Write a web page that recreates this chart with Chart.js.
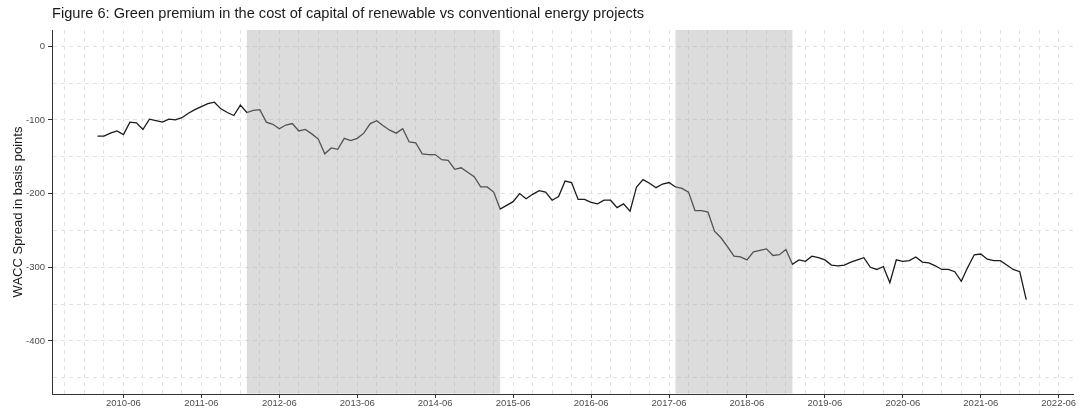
<!DOCTYPE html>
<html>
<head>
<meta charset="utf-8">
<script src="https://cdn.jsdelivr.net/npm/chart.js@4.4.0/dist/chart.umd.min.js"></script>
<style>
    html, body { margin: 0; padding: 0; background: #fff; }
    #wrap { width: 1086px; height: 416px; position: relative; }
</style>
</head>
<body>
<div id="wrap"><canvas id="premium-chart"></canvas></div>
<script>
(function() {
    "use strict";

    const chartTitle = 'Figure 6: Green premium in the cost of capital of renewable vs conventional energy projects';
    const yAxisTitle = 'WACC Spread in basis points';

    // monthly WACC spread (bp), series starts Feb 2010
    const firstYear = 2010;
    const firstMonth = 2;
    const wacc2010 = [-122, -122, -118, -115, -120, -103, -104, -113, -99, -101, -103];
    const wacc2011 = [-99, -100, -97, -91, -86, -82, -78, -76, -85, -90, -94, -80];
    const wacc2012 = [-90, -87, -86, -103, -106, -112, -107, -105, -115, -113, -119, -126];
    const wacc2013 = [-146, -138, -140, -125, -128, -125, -118, -105, -101, -108, -114, -118];
    const wacc2014 = [-112, -130, -131, -146, -147, -147, -154, -155, -167, -165, -171, -177];
    const wacc2015 = [-191, -191, -198, -221, -216, -211, -200, -207, -201, -196, -198, -209];
    const wacc2016 = [-204, -183, -185, -208, -208, -212, -214, -209, -209, -219, -214, -224];
    const wacc2017 = [-191, -181, -186, -192, -187, -185, -191, -193, -198, -223, -223, -225];
    const wacc2018 = [-251, -260, -272, -285, -286, -290, -279, -277, -275, -284, -283, -276];
    const wacc2019 = [-296, -290, -292, -285, -287, -290, -297, -298, -297, -293, -290, -287];
    const wacc2020 = [-300, -303, -299, -321, -290, -292, -291, -286, -293, -294, -298, -303];
    const wacc2021 = [-303, -306, -319, -300, -283, -282, -289, -291, -291, -297, -303, -306];
    const wacc2022 = [-344];
    const waccByYear = [wacc2010, wacc2011, wacc2012, wacc2013, wacc2014, wacc2015, wacc2016,
                        wacc2017, wacc2018, wacc2019, wacc2020, wacc2021, wacc2022];

    const xTickLabels = ['2010-06', '2011-06', '2012-06', '2013-06', '2014-06', '2015-06', '2016-06',
                         '2017-06', '2018-06', '2019-06', '2020-06', '2021-06', '2022-06'];
    const yTickValues = [0, -100, -200, -300, -400];
    const shadedPeriods = [['2012-01', '2015-04'], ['2017-07', '2019-01']];

    function toYear(s) {
        const parts = s.split('-').map(Number);
        return parts[0] + (parts[1] - 1) / 12;
    }

    let points = [];
    waccByYear.forEach(function(vals, i) {
        const startM = i === 0 ? firstMonth : 1;
        vals.forEach(function(v, j) {
            points.push({x: firstYear + i + (startM - 1 + j) / 12, y: v});
        });
    });

    function xLabelFor(value) {
        const hit = xTickLabels.find(l => Math.abs(toYear(l) - value) < 0.01);
        return hit || '';
    }
    function yLabelFor(value) {
        return yTickValues.includes(value) ? String(value) : '';
    }

    const gridColor = '#e2e2e2';
    const axisColor = '#333333';
    const tickFont = {family: '"Liberation Sans", Arial, sans-serif', size: 9.5};

    const figTitle = {
        id: 'figTitle',
        afterDraw(chart) {
            const ctx = chart.ctx;
            ctx.save();
            ctx.font = '14.6px "Liberation Sans", Arial, sans-serif';
            ctx.fillStyle = '#1a1a1a';
            ctx.textBaseline = 'middle';
            ctx.fillText(chartTitle, chart.chartArea.left, 14);
            ctx.restore();
        }
    };

    const shade = {
        id: 'shade',
        afterDatasetsDraw(chart) {
            const ctx = chart.ctx, a = chart.chartArea, x = chart.scales.x;
            ctx.save();
            ctx.fillStyle = 'rgba(168,168,168,0.4)';
            shadedPeriods.forEach(function(p) {
                const x0 = x.getPixelForValue(toYear(p[0]));
                const x1 = x.getPixelForValue(toYear(p[1]));
                ctx.fillRect(x0, a.top, x1 - x0, a.bottom - a.top - 0.5);
            });
            ctx.restore();
        }
    };

    new Chart(document.getElementById('premium-chart'), {
        type: 'line',
        data: {
            datasets: [{
                data: points,
                borderColor: '#1a1a1a',
                borderWidth: 1.3,
                pointRadius: 0,
                fill: false,
                tension: 0
            }]
        },
        options: {
            responsive: true,
            maintainAspectRatio: false,
            animation: false,
            layout: {
                padding: {top: 30, right: 13, left: 0, bottom: 0}
            },
            plugins: {
                legend: {display: false},
                tooltip: {enabled: false}
            },
            scales: {
                x: {
                    type: 'linear',
                    min: 2009.5,
                    max: 2022.6,
                    afterFit: function(scale) { scale.height = 22; },
                    afterBuildTicks: function(scale) {
                        const start = toYear('2009-09');
                        let ticks = [];
                        for (let k = 0; start + k * 0.25 <= scale.max; k++) {
                            ticks.push({value: start + k * 0.25});
                        }
                        scale.ticks = ticks;
                    },
                    grid: {
                        color: gridColor,
                        tickLength: 4,
                        tickBorderDash: [],
                        tickColor: ctx => xLabelFor(ctx.tick.value) ? axisColor : 'rgba(0,0,0,0)'
                    },
                    border: {display: true, color: axisColor, width: 1, dash: [4, 4]},
                    ticks: {
                        autoSkip: false,
                        maxRotation: 0,
                        padding: 0,
                        color: '#4d4d4d',
                        font: tickFont,
                        callback: value => xLabelFor(value)
                    }
                },
                y: {
                    min: -472,
                    max: 22,
                    afterFit: function(scale) { scale.width = 52; },
                    afterBuildTicks: function(scale) {
                        let ticks = [];
                        for (let v = -450; v <= 0; v += 50) ticks.push({value: v});
                        scale.ticks = ticks;
                    },
                    grid: {
                        color: gridColor,
                        tickLength: 4,
                        tickBorderDash: [],
                        tickColor: ctx => yLabelFor(ctx.tick.value) ? axisColor : 'rgba(0,0,0,0)'
                    },
                    border: {display: true, color: axisColor, width: 1, dash: [4, 4]},
                    ticks: {
                        padding: 3,
                        color: '#4d4d4d',
                        font: tickFont,
                        callback: value => yLabelFor(value)
                    },
                    title: {
                        display: true,
                        text: yAxisTitle,
                        color: '#1a1a1a',
                        padding: {top: 11, bottom: 0},
                        font: {family: '"Liberation Sans", Arial, sans-serif', size: 13}
                    }
                }
            }
        },
        plugins: [shade, figTitle]
    });
})();
</script>
</body>
</html>
